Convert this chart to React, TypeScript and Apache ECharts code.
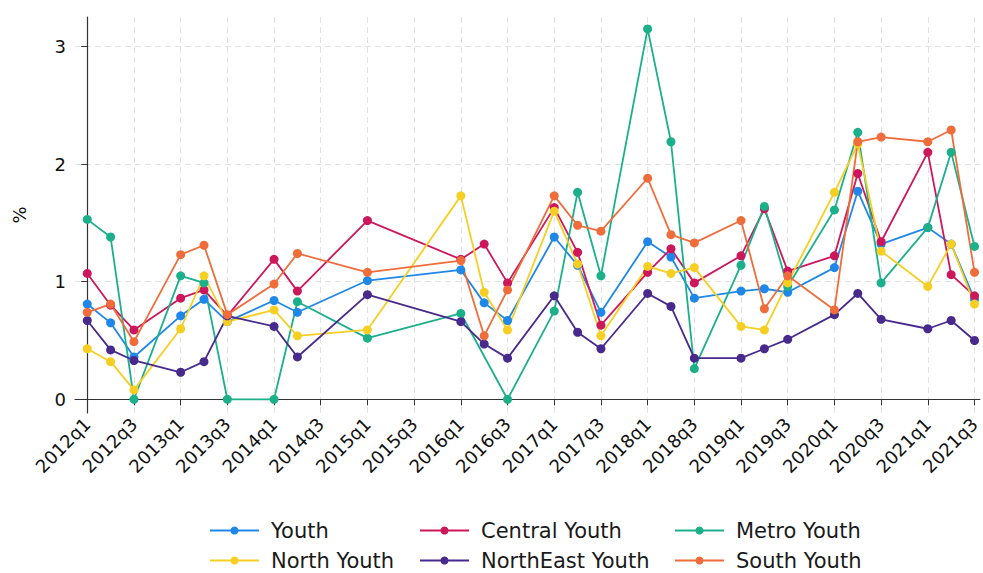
import React, { useEffect, useRef } from "react";
import * as echarts from "echarts";

const quarters = [
  "2012q1", "2012q2", "2012q3", "2012q4",
  "2013q1", "2013q2", "2013q3", "2013q4",
  "2014q1", "2014q2", "2014q3", "2014q4",
  "2015q1", "2015q2", "2015q3", "2015q4",
  "2016q1", "2016q2", "2016q3", "2016q4",
  "2017q1", "2017q2", "2017q3", "2017q4",
  "2018q1", "2018q2", "2018q3", "2018q4",
  "2019q1", "2019q2", "2019q3", "2019q4",
  "2020q1", "2020q2", "2020q3", "2020q4",
  "2021q1", "2021q2", "2021q3",
];

const tickLabels = [
  "2012q1", "2012q3", "2013q1", "2013q3", "2014q1", "2014q3", "2015q1",
  "2015q3", "2016q1", "2016q3", "2017q1", "2017q3", "2018q1", "2018q3",
  "2019q1", "2019q3", "2020q1", "2020q3", "2021q1", "2021q3",
];

const yTicks = [0, 1, 2, 3];

const periods = [
  "2012q1", "2012q2", "2012q3", "2013q1", "2013q2", "2013q3", "2014q1",
  "2014q2", "2015q1", "2016q1", "2016q2", "2016q3", "2017q1", "2017q2",
  "2017q3", "2018q1", "2018q2", "2018q3", "2019q1", "2019q2", "2019q3",
  "2020q1", "2020q2", "2020q3", "2021q1", "2021q2", "2021q3",
];

const youth = [0.81, 0.65, 0.36, 0.71, 0.85, 0.66, 0.84, 0.74, 1.01, 1.10, 0.82, 0.67, 1.38, 1.14, 0.74, 1.34, 1.21, 0.86, 0.92, 0.94, 0.91, 1.12, 1.77, 1.32, 1.46, 1.32, 0.85];
const centralYouth = [1.07, 0.80, 0.59, 0.86, 0.93, 0.71, 1.19, 0.92, 1.52, 1.19, 1.32, 0.99, 1.63, 1.25, 0.63, 1.08, 1.28, 0.99, 1.22, 1.62, 1.09, 1.22, 1.92, 1.34, 2.10, 1.06, 0.88];
const metroYouth = [1.53, 1.38, 0.00, 1.05, 0.99, 0.00, 0.00, 0.83, 0.52, 0.73, null, 0.00, 0.75, 1.76, 1.05, 3.15, 2.19, 0.26, 1.14, 1.64, 0.96, 1.61, 2.27, 0.99, 1.46, 2.10, 1.30];
const northYouth = [0.43, 0.32, 0.08, 0.60, 1.05, 0.66, 0.76, 0.54, 0.59, 1.73, 0.91, 0.59, 1.60, 1.15, 0.54, 1.13, 1.07, 1.12, 0.62, 0.59, 0.99, 1.76, 2.17, 1.26, 0.96, 1.32, 0.81];
const northEastYouth = [0.67, 0.42, 0.33, 0.23, 0.32, 0.71, 0.62, 0.36, 0.89, 0.66, 0.47, 0.35, 0.88, 0.57, 0.43, 0.90, 0.79, 0.35, 0.35, 0.43, 0.51, 0.72, 0.90, 0.68, 0.60, 0.67, 0.50];
const southYouth = [0.74, 0.81, 0.49, 1.23, 1.31, 0.72, 0.98, 1.24, 1.08, 1.18, 0.54, 0.93, 1.73, 1.48, 1.43, 1.88, 1.40, 1.33, 1.52, 0.77, 1.05, 0.76, 2.19, 2.23, 2.19, 2.29, 1.08];

const seriesNames = ["Youth", "Central Youth", "Metro Youth", "North Youth", "NorthEast Youth", "South Youth"];
const seriesValues = [youth, centralYouth, metroYouth, northYouth, northEastYouth, southYouth];
const seriesColors = ["#1f87e8", "#cc175c", "#1cb08a", "#f6cf22", "#48298c", "#ef6c3b"];

const FONT = "DejaVu Sans";

// legend slot for each series: [left, top]
const legendSlots: [number, number][] = [
  [209, 520], [419, 520], [674, 520],
  [209, 550], [419, 550], [674, 550],
];

export default function App() {
  const ref = useRef<HTMLDivElement>(null);

  useEffect(() => {
    if (!ref.current) return;
    const chart = echarts.init(ref.current, null, { renderer: "svg" });

    const tickIdx = tickLabels.map((t) => quarters.indexOf(t));

    const series = seriesNames.map((name, s) => ({
      name,
      type: "line",
      data: periods
        .map((p, i) => [quarters.indexOf(p), seriesValues[s][i]])
        .filter((d) => d[1] !== null && d[1] !== undefined),
      symbol: "circle",
      symbolSize: 9,
      lineStyle: { width: 1.8, color: seriesColors[s] },
      itemStyle: { color: seriesColors[s] },
      emphasis: { disabled: true },
    }));

    const legends = seriesNames.map((name, s) => ({
      left: legendSlots[s][0],
      top: legendSlots[s][1],
      orient: "horizontal",
      itemWidth: 49,
      itemHeight: 10,
      padding: 0,
      textStyle: { fontSize: 21, fontFamily: FONT, color: "#1a1a1a", padding: [0, 0, 0, 7] },
      selectedMode: false,
      data: [name],
    }));

    chart.setOption({
      animation: false,
      color: seriesColors,
      textStyle: { fontFamily: FONT },
      grid: { left: 75, right: 0, top: 17, bottom: 160, containLabel: false },
      xAxis: {
        type: "value",
        min: -0.525,
        max: 38.23,
        axisLine: { show: true, lineStyle: { color: "#333", width: 1.2 } },
        axisTick: { show: true, length: 6, customValues: tickIdx, lineStyle: { color: "#333" } },
        axisLabel: {
          customValues: tickIdx,
          rotate: 45,
          fontSize: 18,
          fontFamily: FONT,
          color: "#111",
          margin: 8,
          formatter: (v: number) => quarters[Math.round(v)],
        },
        splitLine: { show: true, lineStyle: { color: "#e2e2e2", type: [6, 4], width: 1 } },
      },
      yAxis: {
        type: "value",
        min: -0.1165,
        max: 3.251,
        name: "%",
        nameLocation: "middle",
        nameGap: 47,
        nameTextStyle: { fontSize: 18, fontFamily: FONT, color: "#111" },
        axisLine: { show: true, lineStyle: { color: "#333", width: 1.2 } },
        axisTick: { show: true, length: 6, customValues: yTicks, lineStyle: { color: "#333" } },
        axisLabel: {
          customValues: yTicks,
          fontSize: 18,
          fontFamily: FONT,
          color: "#111",
          margin: 9,
        },
        splitLine: { show: true, lineStyle: { color: "#e2e2e2", type: [6, 4], width: 1 } },
      },
      legend: legends,
      series,
    });

    return () => chart.dispose();
  }, []);

  return (
    <div
      ref={ref}
      style={{ position: "fixed", left: 0, top: 0, width: 983, height: 573, background: "#fff" }}
    />
  );
}
